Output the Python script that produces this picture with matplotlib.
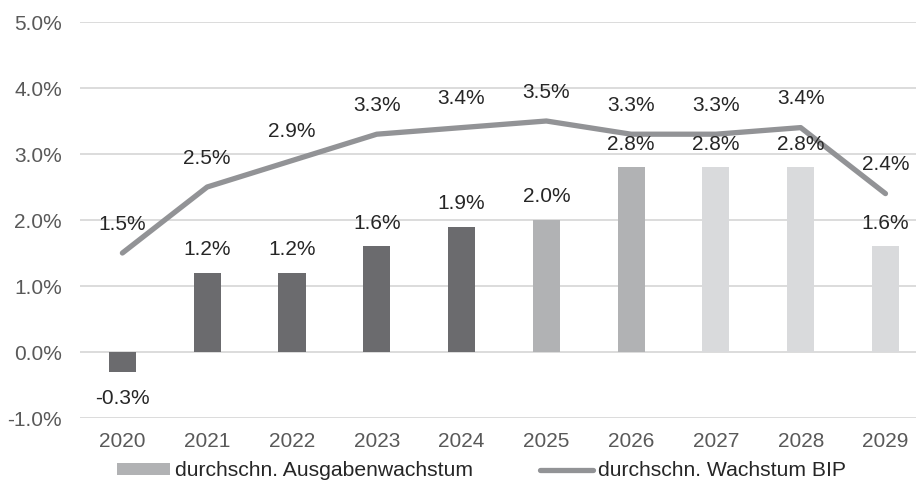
import matplotlib
matplotlib.use("Agg")
import matplotlib.pyplot as plt
from matplotlib.patches import Patch
from matplotlib.lines import Line2D

years = ["2020", "2021", "2022", "2023", "2024", "2025", "2026", "2027", "2028", "2029"]
spending_growth = [-0.3, 1.2, 1.2, 1.6, 1.9, 2.0, 2.8, 2.8, 2.8, 1.6]
gdp_growth = [1.5, 2.5, 2.9, 3.3, 3.4, 3.5, 3.3, 3.3, 3.4, 2.4]
bar_colors = ["#6b6b6e"] * 5 + ["#b1b2b4"] * 2 + ["#d9dadc"] * 3
yticks = [-1, 0, 1, 2, 3, 4, 5]
legend_labels = ["durchschn. Ausgabenwachstum", "durchschn. Wachstum BIP"]

plt.rcParams['font.family'] = ['Liberation Sans', 'DejaVu Sans']
W, H = 916, 483
fig = plt.figure(figsize=(W / 100, H / 100), dpi=100)
ax = fig.add_axes([80 / W, (H - 418) / H, (W - 80) / W, 396 / H])

x = list(range(len(years)))
ax.bar(x, spending_growth, width=0.32, color=bar_colors, zorder=2)
ax.plot(x, gdp_growth, color="#929396", lw=3.8, solid_joinstyle="round",
        solid_capstyle="round", zorder=3)

fs = 15
txt = "#262626"
for xi, v in zip(x, spending_growth):
    off = 23 if v >= 0 else -27
    ax.annotate(f"{v:.1f}%", (xi, v), xytext=(0, off), textcoords="offset pixels",
                ha="center", va="center", fontsize=fs, color=txt, zorder=4)
for xi, v in zip(x, gdp_growth):
    ax.annotate(f"{v:.1f}%", (xi, v), xytext=(0, 29), textcoords="offset pixels",
                ha="center", va="center", fontsize=fs, color=txt, zorder=4)

ax.set_ylim(-1, 5)
ax.set_xlim(-0.5, 9.36)
ax.set_yticks(yticks)
ax.set_yticklabels([f"{t:.1f}%" for t in yticks])
ax.set_xticks(x)
ax.set_xticklabels(years)
ax.tick_params(axis="both", length=0, labelsize=fs, labelcolor="#595959")
ax.tick_params(axis="y", pad=13)
ax.tick_params(axis="x", pad=10)
ax.grid(axis="y", color="#d9d9d9", lw=1.3, zorder=0)
for s in ax.spines.values():
    s.set_visible(False)

handles = [Patch(facecolor="#b1b2b4", edgecolor="none"),
           Line2D([0], [0], color="#929396", lw=3.8, solid_capstyle="round")]
fig.legend(handles, legend_labels, loc="center", bbox_to_anchor=(481.5 / W, 1 - 471 / H),
           ncol=2, frameon=False, fontsize=15.2, handlelength=2.5, handleheight=0.53,
           handletextpad=0.25, columnspacing=3.15, labelcolor=txt, borderpad=0)

fig.savefig("out.png", dpi=100)
